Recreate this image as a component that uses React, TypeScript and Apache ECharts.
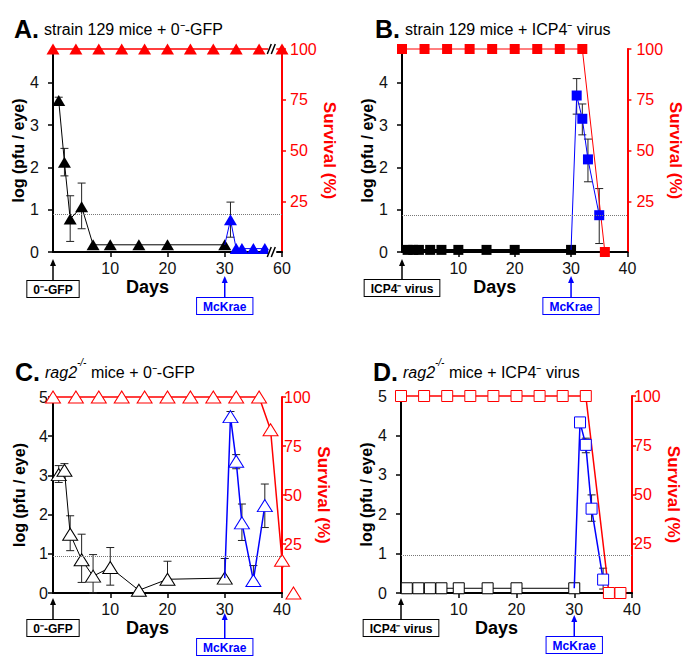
import React, { useEffect, useRef } from 'react';
import * as echarts from 'echarts';

const FONT = "'Liberation Sans', Arial, Helvetica, sans-serif";
const RED = '#ff0000';
const BLUE = '#0000ff';
const BLACK = '#000000';

// ---------------- Panel A: strain 129 mice + 0--GFP ----------------
const aDays = [1, 2, 3, 5, 7, 10, 15, 20, 30];
const aLog = [3.58, 2.12, 0.78, 1.07, 0.17, 0.17, 0.17, 0.17, 0.17];
const aErr = [[1, 3.5, 3.66], [2, 1.8, 2.45], [3, 0.25, 1.33], [5, 0.55, 1.63]];
const aMcDays = [30, 31, 32, 33, 35, 37];
const aMcLog = [0.17, 0.76, 0.08, 0.08, 0.08, 0.08];
const aMcErr = [[31, 0.35, 1.18]];
const aSurvDays = [0, 4, 8, 12, 16, 20, 24, 28, 32, 36, 40];
const aSurv = [100, 100, 100, 100, 100, 100, 100, 100, 100, 100, 100];
const aLimit = 0.89;
const aXTickLabels = ['0', '10', '20', '30', '60'];
const aBreakDays = [38.3];
const aMarkDays = [0, 30];
const aMarkLabels = ['0⁻-GFP', 'McKrae'];

// ---------------- Panel B: strain 129 mice + ICP4- virus ----------------
const bDays = [1, 2, 3, 5, 7, 10, 15, 20, 30];
const bLog = [0.05, 0.05, 0.05, 0.05, 0.05, 0.05, 0.05, 0.05, 0.05];
const bMcDays = [30, 31, 32, 33, 35];
const bMcLog = [0.05, 3.7, 3.15, 2.19, 0.87];
const bMcErr = [[31, 3.26, 4.1], [32, 2.77, 3.5], [33, 1.66, 2.67], [35, 0.2, 1.5]];
const bSurvDays = [0, 4, 8, 12, 16, 20, 24, 28, 32, 36];
const bSurv = [100, 100, 100, 100, 100, 100, 100, 100, 100, 0];
const bLimit = 0.88;
const bXTickLabels = ['0', '10', '20', '30', '40'];
const bMarkDays = [0, 30];
const bMarkLabels = ['ICP4⁻ virus', 'McKrae'];

// ---------------- Panel C: rag2-/- mice + 0--GFP ----------------
const cDays = [1, 2, 3, 5, 7, 10, 15, 20, 30];
const cLog = [3.02, 3.13, 1.5, 0.85, 0.43, 0.65, 0.07, 0.35, 0.38];
const cErr = [[1, 2.82, 3.25], [2, 3.0, 3.3], [3, 1.08, 1.97], [5, 0.27, 1.5], [7, 0, 0.98], [10, 0.2, 1.16], [20, 0.35, 0.81], [30, 0.38, 0.88]];
const cMcDays = [30, 31, 32, 33, 35, 37];
const cMcLog = [0.38, 4.5, 3.36, 1.79, 0.32, 2.23];
const cMcErr = [[31, 4.4, 4.63], [32, 3.17, 3.53], [33, 1.34, 2.27], [35, 0.32, 0.7], [37, 1.67, 2.78]];
const cSurvDays = [0, 4, 8, 12, 16, 20, 24, 28, 32, 36, 38, 40, 42];
const cSurv = [100, 100, 100, 100, 100, 100, 100, 100, 100, 100, 83.3, 16.7, 0];
const cLimit = 0.95;
const cXTickLabels = ['0', '10', '20', '30', '40'];
const cMarkDays = [0, 30];
const cMarkLabels = ['0⁻-GFP', 'McKrae'];

// ---------------- Panel D: rag2-/- mice + ICP4- virus ----------------
const dDays = [1, 3, 5, 7, 10, 15, 20, 30];
const dLog = [0.12, 0.12, 0.12, 0.12, 0.12, 0.12, 0.12, 0.12];
const dMcDays = [30, 31, 32, 33, 35];
const dMcLog = [0.12, 4.33, 3.76, 2.14, 0.34];
const dMcErr = [[31, 4.25, 4.42], [32, 3.56, 3.93], [33, 1.82, 2.49], [35, 0.1, 0.63]];
const dSurvDays = [0, 4, 8, 12, 16, 20, 24, 28, 32, 36, 38];
const dSurv = [100, 100, 100, 100, 100, 100, 100, 100, 100, 0, 0];
const dLimit = 0.95;
const dXTickLabels = ['0', '10', '20', '30', '40'];
const dMarkDays = [0, 30];
const dMarkLabels = ['ICP4⁻ virus', 'McKrae'];

const pairs = (xs: number[], ys: number[]) => xs.map((x, i) => [x, ys[i]]);

function connectorData(xs: number[], ys: number[]) {
  return xs.map((x, i) => (i === 0 ? { value: [x, ys[i]], symbol: 'none' } : [x, ys[i]]));
}

function errSeries(xi: number, yi: number, data: number[][]) {
  return {
    type: 'custom',
    xAxisIndex: xi,
    yAxisIndex: yi,
    data,
    z: 1,
    silent: true,
    encode: { x: 0, y: [1, 2] },
    renderItem: (params: any, api: any) => {
      const x = api.value(0);
      const lo = api.coord([x, api.value(1)]);
      const hi = api.coord([x, api.value(2)]);
      const w = 4;
      const st = { stroke: '#222', lineWidth: 1 };
      return {
        type: 'group',
        children: [
          { type: 'line', shape: { x1: lo[0], y1: lo[1], x2: hi[0], y2: hi[1] }, style: st },
          { type: 'line', shape: { x1: hi[0] - w, y1: hi[1], x2: hi[0] + w, y2: hi[1] }, style: st },
          { type: 'line', shape: { x1: lo[0] - w, y1: lo[1], x2: lo[0] + w, y2: lo[1] }, style: st },
        ],
      };
    },
  };
}

function markSeries(xi: number, yi: number, day: number, text: string, color: string, arrowGap: number, boxGap: number) {
  return {
    type: 'custom',
    xAxisIndex: xi,
    yAxisIndex: yi,
    data: [[day, 0]],
    z: 6,
    silent: true,
    clip: false,
    encode: { x: 0, y: 1 },
    renderItem: (params: any, api: any) => {
      const p = api.coord([api.value(0), api.value(1)]);
      const x = p[0];
      const top = p[1] + arrowGap;
      const boxTop = p[1] + boxGap;
      return {
        type: 'group',
        children: [
          { type: 'line', shape: { x1: x, y1: top + 4, x2: x, y2: boxTop }, style: { stroke: color, lineWidth: 1.5 } },
          { type: 'polygon', shape: { points: [[x, top], [x - 3, top + 7], [x + 3, top + 7]] }, style: { fill: color } },
          {
            type: 'text',
            x,
            y: boxTop,
            style: {
              text,
              fill: color,
              fontSize: 12,
              fontWeight: 'bold',
              fontFamily: FONT,
              align: 'center',
              verticalAlign: 'top',
              backgroundColor: '#fff',
              borderColor: color,
              borderWidth: 1,
              padding: [3, 6, 1, 6],
            },
          },
        ],
      };
    },
  };
}

function breakSeries(xi: number, yi: number, days: number[], levels: number[]) {
  const data: number[][] = [];
  days.forEach((d) => levels.forEach((l) => data.push([d, l])));
  return {
    type: 'custom',
    xAxisIndex: xi,
    yAxisIndex: yi,
    data,
    z: 7,
    silent: true,
    clip: false,
    encode: { x: 0, y: 1 },
    renderItem: (params: any, api: any) => {
      const p = api.coord([api.value(0), api.value(1)]);
      const h = 5;
      const st = { stroke: '#000', lineWidth: 1.5 };
      return {
        type: 'group',
        children: [
          { type: 'rect', shape: { x: p[0] - 4, y: p[1] - 2, width: 8, height: 4 }, style: { fill: '#fff' } },
          { type: 'line', shape: { x1: p[0] - 5, y1: p[1] + h, x2: p[0] - 1, y2: p[1] - h }, style: st },
          { type: 'line', shape: { x1: p[0] - 1, y1: p[1] + h, x2: p[0] + 3, y2: p[1] - h }, style: st },
        ],
      };
    },
  };
}

function lineSeries(xi: number, yi: number, data: any[], o: any) {
  return {
    type: 'line',
    xAxisIndex: xi,
    yAxisIndex: yi,
    data,
    clip: false,
    silent: true,
    symbol: o.symbol,
    symbolSize: o.symbolSize,
    itemStyle: { color: o.fill, borderColor: o.stroke, borderWidth: o.borderWidth ?? 0 },
    lineStyle: { color: o.lineColor, width: o.lineWidth ?? 1 },
    z: o.z ?? 3,
    markLine: o.limit !== undefined
      ? {
          silent: true,
          symbol: 'none',
          label: { show: false },
          lineStyle: { type: 'dotted', color: '#777', width: 1 },
          data: [{ yAxis: o.limit }],
        }
      : undefined,
  };
}

function xAxis(gi: number, labels: string[]) {
  return {
    gridIndex: gi,
    type: 'value',
    min: 0,
    max: 40,
    interval: 10,
    axisLine: { show: true, onZero: false, lineStyle: { color: '#000', width: 2 } },
    axisTick: { show: true, length: 5, lineStyle: { color: '#000', width: 1.5 } },
    axisLabel: {
      fontSize: 16,
      color: '#111',
      fontFamily: FONT,
      margin: 8,
      showMinLabel: false,
      formatter: (v: number) => labels[Math.round(v / 10)] ?? '',
    },
    splitLine: { show: false },
    name: 'Days',
    nameLocation: 'middle',
    nameGap: 26,
    nameTextStyle: { fontSize: 18, fontWeight: 'bold', color: '#000', fontFamily: FONT, padding: [0, 40, 0, 0] },
  };
}

function yLeft(gi: number, max: number, margin: number) {
  return {
    gridIndex: gi,
    type: 'value',
    position: 'left',
    min: 0,
    max,
    interval: 1,
    axisLine: { show: true, lineStyle: { color: '#000', width: 2 } },
    axisTick: { show: true, length: 5, lineStyle: { color: '#000', width: 1.5 } },
    axisLabel: { fontSize: 16, color: '#111', fontFamily: FONT, margin, showMaxLabel: max === 5 },
    splitLine: { show: false },
    name: 'log (pfu / eye)',
    nameLocation: 'middle',
    nameGap: 26,
    nameTextStyle: { fontSize: 16, fontWeight: 'bold', color: '#000', fontFamily: FONT },
  };
}

function yRight(gi: number, margin: number, gap: number) {
  return {
    gridIndex: gi,
    type: 'value',
    position: 'right',
    min: 0,
    max: 100,
    interval: 25,
    axisLine: { show: true, lineStyle: { color: RED, width: 2 } },
    axisTick: { show: true, length: 4, lineStyle: { color: RED, width: 1.5 } },
    axisLabel: { fontSize: 16, color: RED, fontFamily: FONT, margin, showMinLabel: false },
    splitLine: { show: false },
    name: 'Survival (%)',
    nameLocation: 'middle',
    nameRotate: -90,
    nameGap: gap,
    nameTextStyle: { fontSize: 17, fontWeight: 'bold', color: RED, fontFamily: FONT },
  };
}

const titleRich = {
  b: { fontSize: 25, fontWeight: 'bold', color: '#000', fontFamily: FONT, lineHeight: 30 },
  t: { fontSize: 16, fontWeight: 'normal', color: '#000', fontFamily: FONT, lineHeight: 30 },
  i: { fontSize: 16, fontWeight: 'normal', color: '#000', fontStyle: 'italic', fontFamily: FONT, lineHeight: 30 },
  s: { fontSize: 10, fontWeight: 'normal', color: '#000', fontStyle: 'italic', fontFamily: FONT, lineHeight: 20, verticalAlign: 'top' },
};

export default function App() {
  const ref = useRef<HTMLDivElement>(null);

  useEffect(() => {
    document.body.style.margin = '0';
    if (!ref.current) return;
    const chart = echarts.init(ref.current, null, { renderer: 'svg' });

    const option: any = {
      animation: false,
      backgroundColor: '#fff',
      title: [
        { text: '{b|A.} {t|strain 129 mice + 0⁻-GFP}', left: 9, top: 9, textStyle: { fontWeight: 'normal', rich: titleRich } },
        { text: '{b|B.} {t|strain 129 mice + ICP4⁻ virus}', left: 370, top: 9, textStyle: { fontWeight: 'normal', rich: titleRich } },
        { text: '{b|C.} {i|rag2}{s|-/-}{t| mice + 0⁻-GFP}', left: 10, top: 352, textStyle: { fontWeight: 'normal', rich: titleRich } },
        { text: '{b|D.} {i|rag2}{s|-/-}{t| mice + ICP4⁻ virus}', left: 368, top: 352, textStyle: { fontWeight: 'normal', rich: titleRich } },
      ],
      grid: [
        { left: 53, top: 49, width: 229, height: 203 },
        { left: 402, top: 49, width: 230, height: 203 },
        { left: 53, top: 397, width: 229, height: 196 },
        { left: 401, top: 396, width: 231, height: 197 },
      ],
      xAxis: [xAxis(0, aXTickLabels), xAxis(1, bXTickLabels), xAxis(2, cXTickLabels), xAxis(3, dXTickLabels)],
      yAxis: [
        yLeft(0, 4.8, 14), yRight(0, 8, 28),
        yLeft(1, 4.8, 14), yRight(1, 9, 28),
        yLeft(2, 5, 5), yRight(2, 2, 26),
        yLeft(3, 5, 14), yRight(3, 2, 26),
      ],
      series: [
        // ---- A ----
        errSeries(0, 0, aErr),
        errSeries(0, 0, aMcErr),
        lineSeries(0, 1, pairs(aSurvDays, aSurv), { symbol: 'triangle', symbolSize: [13, 11], fill: RED, lineColor: RED, lineWidth: 1.5, z: 2 }),
        lineSeries(0, 0, pairs(aDays, aLog), { symbol: 'triangle', symbolSize: [13, 11], fill: BLACK, lineColor: BLACK, limit: aLimit }),
        lineSeries(0, 0, connectorData(aMcDays, aMcLog), { symbol: 'triangle', symbolSize: [13, 11], fill: BLUE, lineColor: BLUE, z: 4 }),
        breakSeries(0, 0, aBreakDays, [0, 4.8]),
        markSeries(0, 0, aMarkDays[0], aMarkLabels[0], BLACK, 7, 29),
        markSeries(0, 0, aMarkDays[1], aMarkLabels[1], BLUE, 24, 46),
        // ---- B ----
        errSeries(1, 2, bMcErr),
        lineSeries(1, 3, pairs(bSurvDays, bSurv), { symbol: 'rect', symbolSize: 10, fill: RED, lineColor: RED, lineWidth: 1, z: 2 }),
        lineSeries(1, 2, pairs(bDays, bLog), { symbol: 'rect', symbolSize: 10, fill: BLACK, lineColor: BLACK, lineWidth: 2, limit: bLimit }),
        lineSeries(1, 2, connectorData(bMcDays, bMcLog), { symbol: 'rect', symbolSize: 10, fill: BLUE, lineColor: BLUE, z: 4 }),
        markSeries(1, 2, bMarkDays[0], bMarkLabels[0], BLACK, 7, 28),
        markSeries(1, 2, bMarkDays[1], bMarkLabels[1], BLUE, 24, 46),
        // ---- C ----
        errSeries(2, 4, cErr),
        errSeries(2, 4, cMcErr),
        lineSeries(2, 5, pairs(cSurvDays, cSurv), { symbol: 'triangle', symbolSize: [15, 12], fill: '#fff', stroke: RED, borderWidth: 1, lineColor: RED, lineWidth: 1.5, z: 2 }),
        lineSeries(2, 4, pairs(cDays, cLog), { symbol: 'triangle', symbolSize: [15, 12], fill: '#fff', stroke: BLACK, borderWidth: 1, lineColor: BLACK, limit: cLimit }),
        lineSeries(2, 4, connectorData(cMcDays, cMcLog), { symbol: 'triangle', symbolSize: [15, 12], fill: '#fff', stroke: BLUE, borderWidth: 1, lineColor: BLUE, lineWidth: 1.5, z: 4 }),
        markSeries(2, 4, cMarkDays[0], cMarkLabels[0], BLACK, 5, 27),
        markSeries(2, 4, cMarkDays[1], cMarkLabels[1], BLUE, 20, 46),
        // ---- D ----
        errSeries(3, 6, dMcErr),
        lineSeries(3, 7, pairs(dSurvDays, dSurv), { symbol: 'rect', symbolSize: 11, fill: '#fff', stroke: RED, borderWidth: 1, lineColor: RED, lineWidth: 1.5, z: 2 }),
        lineSeries(3, 6, pairs(dDays, dLog), { symbol: 'rect', symbolSize: 11, fill: '#fff', stroke: BLACK, borderWidth: 1, lineColor: BLACK, limit: dLimit }),
        lineSeries(3, 6, connectorData(dMcDays, dMcLog), { symbol: 'rect', symbolSize: 11, fill: '#fff', stroke: BLUE, borderWidth: 1, lineColor: BLUE, lineWidth: 1.5, z: 4 }),
        markSeries(3, 6, dMarkDays[0], dMarkLabels[0], BLACK, 5, 27),
        markSeries(3, 6, dMarkDays[1], dMarkLabels[1], BLUE, 22, 44),
      ],
    };

    chart.setOption(option);
    return () => chart.dispose();
  }, []);

  return <div ref={ref} style={{ width: 685, height: 657 }} />;
}
